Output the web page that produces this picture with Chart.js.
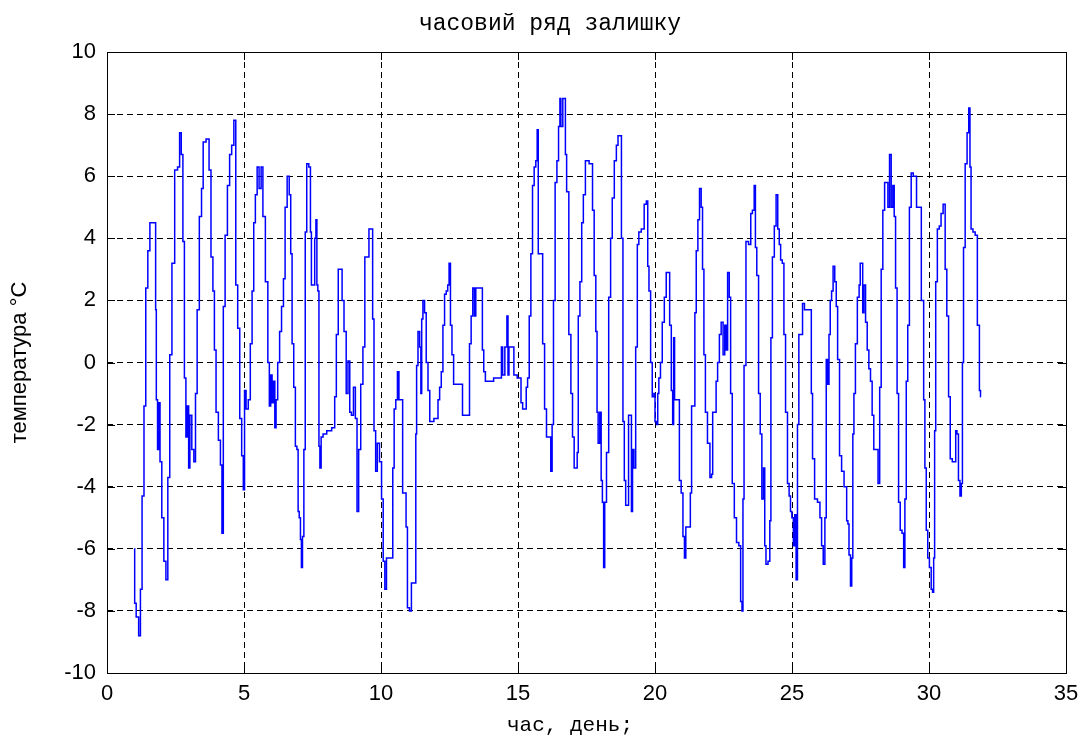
<!DOCTYPE html>
<html lang="uk">
<head>
<meta charset="UTF-8">
<title>часовий ряд залишку</title>
<script src="https://cdn.jsdelivr.net/npm/chart.js"></script>
<style>
  html, body { margin: 0; padding: 0; background: #fff; }
  #wrap { width: 1089px; height: 738px; }
</style>
</head>
<body>
<div id="wrap"><canvas id="residChart" width="1089" height="738"></canvas></div>
<script>
// texts
const chartTitle = 'часовий ряд залишку';
const xTitle = 'час, день;';
const yTitle = 'температура °C';

// axis ticks
const xTicks = [0, 5, 10, 15, 20, 25, 30, 35];
const yTicks = [-10, -8, -6, -4, -2, 0, 2, 4, 6, 8, 10];

// residual series (day, °C)
const days = [
  1.0, 1.02, 1.11, 1.2, 1.24, 1.32, 1.38, 1.45, 1.53, 1.6, 1.77, 1.78, 1.82, 1.87, 1.91, 1.96,
  2.04, 2.11, 2.19, 2.25, 2.33, 2.41, 2.53, 2.62, 2.68, 2.74, 2.8, 2.85, 2.91, 2.96,
  3.0, 3.05, 3.14, 3.2, 3.26, 3.32, 3.42, 3.48, 3.54, 3.69, 3.76, 3.83, 3.9, 3.94,
  4.02, 4.11, 4.17, 4.22, 4.27, 4.35, 4.44, 4.51, 4.59, 4.67, 4.73, 4.81, 4.88, 4.95,
  5.0, 5.04, 5.11, 5.2, 5.26, 5.33, 5.38, 5.45, 5.51, 5.59, 5.66, 5.72, 5.84, 5.9, 5.95,
  6.0, 6.05, 6.1, 6.15, 6.19, 6.27, 6.33, 6.41, 6.47, 6.53, 6.62, 6.68, 6.73, 6.78, 6.85, 6.9, 6.96, 6.99,
  7.04, 7.08, 7.11, 7.16, 7.21, 7.26, 7.32, 7.41, 7.44, 7.48, 7.56, 7.6, 7.65, 7.67, 7.72, 7.75, 7.79, 7.84, 7.93,
  8.11, 8.29, 8.33, 8.41, 8.47, 8.57, 8.59, 8.71, 8.75, 8.84, 8.88, 8.96,
  9.03, 9.1, 9.15, 9.22, 9.3, 9.38, 9.44, 9.53, 9.59, 9.68, 9.71, 9.78, 9.83, 9.9, 9.99,
  10.05, 10.11, 10.17, 10.23, 10.41, 10.45, 10.51, 10.57, 10.63, 10.68, 10.78, 10.8, 10.9, 10.93,
  11.0, 11.08, 11.14, 11.26, 11.28, 11.32, 11.38, 11.44, 11.47, 11.5, 11.56, 11.62, 11.68, 11.75, 11.81,
  12.05, 12.11, 12.17, 12.23, 12.29, 12.35, 12.41, 12.46, 12.51, 12.56, 12.62, 12.68, 12.96, 12.99,
  13.2, 13.26, 13.32, 13.38, 13.44, 13.48, 13.68, 13.72, 13.78, 13.84,
  14.38, 14.41, 14.47, 14.57, 14.62, 14.65, 14.69, 14.84, 14.86,
  15.08, 15.14, 15.2, 15.28, 15.32, 15.38, 15.44, 15.5, 15.56, 15.62, 15.68, 15.72, 15.76, 15.87, 15.93,
  16.01, 16.07, 16.17, 16.22, 16.27, 16.32, 16.39, 16.45, 16.51, 16.55, 16.58, 16.62, 16.65, 16.72, 16.74, 16.81, 16.9, 16.96,
  17.02, 17.08, 17.14, 17.18, 17.22, 17.3, 17.35, 17.42, 17.5, 17.69, 17.75, 17.81, 17.87, 17.9, 17.95,
  18.02, 18.05, 18.11, 18.14, 18.19, 18.27, 18.35, 18.41, 18.47, 18.56, 18.62, 18.68, 18.75, 18.8, 18.86, 18.9, 18.96,
  19.02, 19.05, 19.12, 19.16, 19.2, 19.26, 19.33, 19.38, 19.44, 19.56, 19.65, 19.72, 19.75, 19.81, 19.87, 19.93, 19.99,
  20.01, 20.09, 20.11, 20.17, 20.23, 20.3, 20.38, 20.44, 20.5, 20.57, 20.62, 20.67, 20.69, 20.74, 20.86, 20.92, 20.99,
  21.05, 21.1, 21.15, 21.26, 21.32, 21.35, 21.44, 21.47, 21.54, 21.59, 21.66, 21.71, 21.76, 21.81, 21.87, 21.96,
  22.05, 22.08, 22.13, 22.21, 22.25, 22.32, 22.38, 22.45, 22.52, 22.57, 22.62, 22.68, 22.74, 22.78, 22.86, 22.93,
  23.02, 23.1, 23.15, 23.2, 23.22, 23.28, 23.36, 23.47, 23.52, 23.59, 23.65, 23.68, 23.75, 23.81, 23.87, 23.93, 23.99,
  24.02, 24.08, 24.17, 24.21, 24.25, 24.32, 24.39, 24.45, 24.51, 24.56, 24.61, 24.68, 24.73, 24.8, 24.87, 24.92, 24.97,
  25.02, 25.08, 25.12, 25.18, 25.22, 25.28, 25.36, 25.41, 25.5, 25.69, 25.72, 25.78, 25.87, 25.99,
  26.05, 26.11, 26.17, 26.23, 26.27, 26.33, 26.37, 26.42, 26.47, 26.53, 26.59, 26.64, 26.69, 26.78, 26.84, 26.96,
  27.03, 27.05, 27.11, 27.16, 27.2, 27.24, 27.28, 27.35, 27.42, 27.48, 27.5, 27.56, 27.6, 27.65, 27.72, 27.77, 27.84, 27.89, 27.96,
  28.01, 28.11, 28.17, 28.23, 28.28, 28.35, 28.41, 28.47, 28.53, 28.59, 28.65, 28.71, 28.75, 28.81, 28.86, 28.92, 28.98,
  29.05, 29.1, 29.14, 29.2, 29.25, 29.32, 29.38, 29.47, 29.53, 29.56, 29.66, 29.78, 29.83, 29.87, 29.93, 29.98,
  30.05, 30.11, 30.15, 30.19, 30.22, 30.27, 30.34, 30.41, 30.47, 30.56, 30.62, 30.68, 30.75, 30.8, 30.9, 30.96, 30.99,
  31.05, 31.1, 31.16, 31.2, 31.24, 31.28, 31.36, 31.42, 31.48, 31.51, 31.56, 31.65, 31.72, 31.81, 31.87, 31.89
];
const temps = [
  -6.0, -7.75, -8.2, -8.8, -7.3, -4.3, -1.4, 2.4, 3.6, 4.5, 4.5, 1.7, -1.2, -2.8, -1.3, -3.2,
  -5.0, -6.4, -7.0, -3.7, 0.25, 3.2, 6.2, 6.3, 7.4, 6.7, 3.9, -0.5, -2.4, -1.4,
  -3.4, -1.7, -2.8, -3.2, -1.0, 1.7, 4.7, 5.6, 7.1, 7.2, 6.2, 3.4, 2.3, 0.4,
  -1.6, -2.5, -3.3, -5.5, 1.8, 4.1, 5.7, 6.7, 7.0, 7.8, 2.5, 1.1, -1.8, -3.0,
  -4.1, -0.9, -1.5, -1.2, 0.6, 2.3, 4.5, 5.4, 6.3, 5.6, 6.3, 4.7, 2.6, 0.0, -1.4,
  -0.4, -1.3, -0.6, -2.1, -1.2, 0.0, 1.0, 1.8, 2.7, 5.0, 6.0, 5.4, 3.5, 0.6, -0.8, -2.7, -2.8, -4.8,
  -5.0, -5.7, -6.6, -5.6, -2.8, 4.2, 6.4, 6.3, 4.2, 2.5, 2.5, 4.0, 4.6, 2.5, 2.3, -2.7, -3.4, -2.4, -2.3,
  -2.2, -2.1, -1.1, 0.9, 3.0, 3.0, 2.0, 1.0, -1.0, 0.05, -1.6, -1.7,
  -0.8, -1.8, -4.8, -2.8, -0.7, 0.5, 3.4, 3.4, 4.3, 4.3, 1.4, -2.2, -3.5, -2.6, -3.2,
  -4.4, -6.4, -7.3, -6.3, -6.3, -3.4, -1.5, -1.2, -0.3, -1.2, -1.2, -4.2, -4.2, -5.3,
  -7.9, -8.0, -7.1, -7.1, -2.3, -0.1, 1.0, 0.5, -1.0, 1.4, 2.0, 1.6, 0.0, -0.9, -1.9,
  -1.8, -1.2, -0.8, -0.3, 1.2, 2.2, 2.3, 2.5, 3.2, 1.2, 0.25, -0.7, -0.7, -1.7,
  -1.7, 0.6, 1.5, 2.4, 1.5, 2.4, 2.4, 0.4, -0.3, -0.6,
  -0.5, 0.5, -0.4, 0.5, 1.5, -0.4, 0.5, 0.5, -0.4,
  -0.5, -1.3, -1.5, -1.5, -0.8, -0.5, 1.5, 3.5, 5.7, 6.3, 6.5, 7.5, 3.5, 3.5, 0.6,
  -1.5, -2.4, -2.4, -3.5, -2.0, 2.0, 5.8, 6.5, 7.6, 8.5, 7.6, 7.6, 8.5, 8.5, 6.7, 5.5, 0.9, -1.0,
  -2.4, -3.4, -3.4, -2.9, 1.5, 2.6, 4.5, 5.4, 6.5, 6.4, 4.9, 2.8, 1.0, -1.6, -2.6,
  -1.6, -3.8, -4.5, -6.6, -4.5, -2.9, 2.1, 4.0, 5.3, 6.5, 7.0, 7.3, 7.3, 4.0, -1.9, -3.8, -4.6,
  -4.6, -1.7, -1.7, -4.8, -2.8, -3.4, 0.5, 3.8, 4.2, 4.3, 5.1, 5.2, 3.1, 2.3, 0.0, -1.1, -1.0,
  -1.9, -2.0, -1.0, -0.5, 0.0, 1.3, 2.1, 2.9, 2.9, 1.2, -0.9, -2.0, 0.8, -1.2, -1.2, -3.8, -4.2,
  -5.6, -6.3, -5.3, -5.3, -4.2, -1.4, -1.4, 1.6, 3.6, 4.6, 5.6, 5.0, 3.0, 0.25, -1.6, -2.6,
  -3.7, -3.6, -1.6, -1.6, -0.6, 0.0, 0.9, 1.3, 0.25, 1.2, 0.4, 2.9, 2.1, -1.0, -3.9, -5.0,
  -5.8, -5.9, -7.7, -8.0, -4.4, -0.1, 3.9, 3.8, 4.8, 4.9, 5.7, 3.7, 2.8, -1.0, -2.3, -4.4, -3.4,
  -5.9, -6.5, -6.4, -5.1, 0.8, 3.4, 4.4, 5.4, 4.3, 3.8, 3.3, 3.2, 0.9, -1.6, -3.9, -4.3, -4.8,
  -5.0, -5.9, -4.9, -7.0, -2.0, 0.9, 0.9, 1.9, 1.7, 1.7, -1.0, -3.1, -4.4, -4.5,
  -5.0, -5.9, -6.5, -5.0, 0.1, -0.7, 0.9, 2.0, 2.3, 3.1, 2.6, 1.8, 0.1, -3.0, -3.5, -4.0,
  -5.1, -5.2, -6.2, -7.2, -6.3, -2.3, -1.0, 0.6, 2.1, 2.5, 3.2, 3.2, 1.6, 2.5, 1.3, 0.4, -0.2, -0.6, -1.7,
  -2.8, -2.8, -3.9, -0.8, 3.0, 4.9, 5.8, 5.8, 5.0, 6.7, 5.0, 5.7, 4.7, 2.4, -1.0, -4.5, -5.4,
  -5.5, -6.6, -4.4, -0.6, 1.2, 5.0, 6.1, 6.0, 6.0, 5.0, 5.0, 2.0, -1.2, -3.4, -5.4, -6.3,
  -6.6, -7.3, -7.4, -6.3, -2.2, 2.6, 4.3, 4.4, 4.8, 5.1, 3.0, 1.5, -1.1, -3.1, -3.2, -3.2, -2.2,
  -2.3, -3.8, -4.3, -3.9, 0.0, 3.7, 6.4, 7.4, 8.2, 6.3, 4.3, 4.2, 4.1, 1.2, -0.9, -1.1
];

const points = days.map((d, i) => ({ x: d, y: temps[i] }));

const framePlugin = {
  id: 'frame',
  beforeDraw(chart) {
    const ctx = chart.ctx;
    ctx.save();
    ctx.fillStyle = '#fff';
    ctx.fillRect(0, 0, chart.width, chart.height);
    ctx.restore();
  },
  afterDraw(chart) {
    const { ctx, chartArea: a, scales } = chart;
    ctx.save();
    ctx.strokeStyle = '#000';
    ctx.lineWidth = 1;
    ctx.strokeRect(a.left + 0.5, a.top + 0.5, a.right - a.left, a.bottom - a.top);

    // inward tick marks on all four sides
    ctx.beginPath();
    xTicks.forEach(v => {
      const px = Math.round(scales.x.getPixelForValue(v)) + 0.5;
      ctx.moveTo(px, a.bottom); ctx.lineTo(px, a.bottom - 8);
      ctx.moveTo(px, a.top); ctx.lineTo(px, a.top + 8);
    });
    yTicks.forEach(v => {
      const py = Math.round(scales.y.getPixelForValue(v)) + 0.5;
      ctx.moveTo(a.left, py); ctx.lineTo(a.left + 8, py);
      ctx.moveTo(a.right, py); ctx.lineTo(a.right - 8, py);
    });
    ctx.stroke();

    ctx.fillStyle = '#000';
    ctx.textAlign = 'center';
    ctx.textBaseline = 'alphabetic';
    ctx.font = '23px "Liberation Mono"';
    ctx.fillText(chartTitle, 550, 30);
    ctx.font = '21px "Liberation Mono"';
    ctx.fillText(xTitle, 570, 731);
    ctx.restore();
  }
};

const tickFont = { family: '"Liberation Sans", Arial, sans-serif', size: 22 };

new Chart(document.getElementById('residChart'), {
  type: 'line',
  data: {
    datasets: [{
      data: points,
      borderColor: '#0000ff',
      borderWidth: 1.5,
      pointRadius: 0,
      stepped: 'middle',
      fill: false
    }]
  },
  options: {
    responsive: false,
    animation: false,
    devicePixelRatio: 1,
    layout: { padding: { top: 52, right: 23, left: 0, bottom: 0 } },
    plugins: { legend: { display: false }, tooltip: { enabled: false } },
    scales: {
      x: {
        type: 'linear',
        min: 0,
        max: 35,
        afterBuildTicks: s => { s.ticks = xTicks.map(v => ({ value: v })); },
        afterFit: s => { s.height = 65; },
        ticks: { color: '#000', font: tickFont, padding: 8, maxRotation: 0 },
        grid: { color: '#000', lineWidth: 1, drawTicks: false },
        border: { display: false, dash: [6, 4] }
      },
      y: {
        type: 'linear',
        min: -10,
        max: 10,
        afterBuildTicks: s => { s.ticks = yTicks.map(v => ({ value: v })); },
        afterFit: s => { s.width = 107; },
        ticks: { color: '#000', font: tickFont, padding: 11 },
        grid: { color: '#000', lineWidth: 1, drawTicks: false },
        border: { display: false, dash: [6, 4] },
        title: {
          display: true,
          text: yTitle,
          color: '#000',
          font: { family: '"Liberation Sans", Arial, sans-serif', size: 22 },
          padding: { top: 7, bottom: 0 }
        }
      }
    }
  },
  plugins: [framePlugin]
});
</script>
</body>
</html>
